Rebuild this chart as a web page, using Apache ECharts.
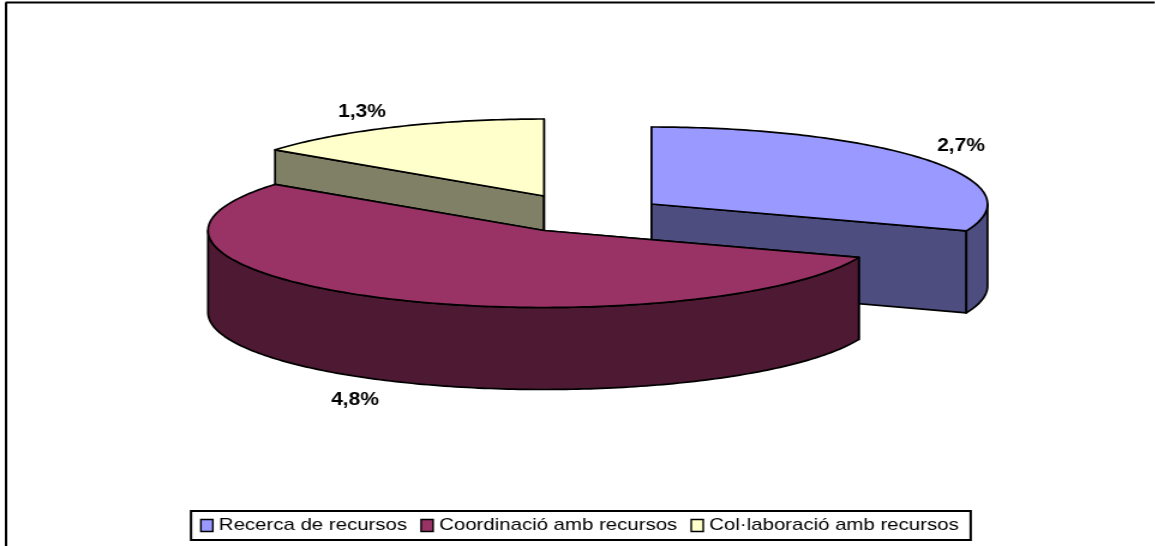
<!DOCTYPE html>
<html><head><meta charset="utf-8">
<style>
html,body{margin:0;padding:0;background:#fff;overflow:hidden}
#c{position:absolute;left:0;top:0;width:962.5px;height:546px;transform:scaleX(1.2);transform-origin:0 0}
</style>
<script src="https://cdn.jsdelivr.net/npm/echarts@6/dist/echarts.min.js"></script>
</head><body><div id="c"></div>
<script>
const categories = ['Recerca de recursos', 'Coordinació amb recursos', 'Col·laboració amb recursos'];
const values = [2.7, 4.8, 1.3];
const topColors = ['#9999FF', '#993366', '#FFFFCC'];
const sideColors = ['#4D4D80', '#4D1933', '#808066'];

// horizontal stretch of the whole picture
const K = 1.2;
const RX = 336 / K, RY = 77, DEPTH = 82;
const apex = [[651.5 / K, 204], [544 / K, 230.5], [544 / K, 196]];
const labelPos = [[961 / K, 146], [355 / K, 400], [362 / K, 112]];
const zOrder = [2, 3, 1];
const total = values.reduce((a, b) => a + b, 0);

function pt(c, deg, dy) {
  const r = deg * Math.PI / 180;
  return [c[0] + RX * Math.sin(r), c[1] - RY * Math.cos(r) + (dy || 0)];
}
function arc(c, from, to, dy) {
  const out = [], n = Math.max(2, Math.ceil(Math.abs(to - from)));
  for (let i = 0; i <= n; i++) out.push(pt(c, from + (to - from) * i / n, dy));
  return out;
}
const edge = { stroke: '#000', lineWidth: 1.7, lineJoin: 'round' };
function poly(points, fill) {
  return { type: 'polygon', shape: { points }, style: Object.assign({ fill }, edge) };
}
function makeRender(i) {
  const start = values.slice(0, i).reduce((a, b) => a + b, 0) / total * 360;
  const end = start + values[i] / total * 360;
  return function () {
    const c = apex[i], side = sideColors[i], ch = [];
    const dn = p => [p[0], p[1] + DEPTH];
    ch.push(poly([c, pt(c, start), pt(c, start, DEPTH), dn(c)], side));
    ch.push(poly([c, pt(c, end), pt(c, end, DEPTH), dn(c)], side));
    const a = Math.max(start, 90), b = Math.min(end, 270);
    if (b > a) ch.push(poly(arc(c, a, b).concat(arc(c, b, a, DEPTH)), side));
    ch.push(poly([c].concat(arc(c, start, end)), topColors[i]));
    ch.push({ type: 'text', style: {
      text: values[i].toFixed(1).replace('.', ',') + '%',
      x: labelPos[i][0], y: labelPos[i][1], align: 'center', verticalAlign: 'middle',
      font: 'bold 17.5px "Liberation Sans", Arial, sans-serif', fill: '#000' } });
    return { type: 'group', children: ch };
  };
}
const chart = echarts.init(document.getElementById('c'), null, { renderer: 'canvas' });
chart.setOption({
  animation: false,
  backgroundColor: '#fff',
  graphic: [
    { type: 'line', shape: { x1: 5.5 / K, y1: 2.5, x2: 1155 / K, y2: 2.5 }, style: { stroke: '#000', lineWidth: 2 } },
    { type: 'line', shape: { x1: 6 / K, y1: 2.5, x2: 6 / K, y2: 546 }, style: { stroke: '#000', lineWidth: 2 } }
  ],
  legend: {
    data: categories,
    left: 191 / K, top: 511, padding: [6, 10, 6, 7.5], itemGap: 11,
    orient: 'horizontal', icon: 'rect', itemWidth: 10, itemHeight: 12,
    borderColor: '#000', borderWidth: 2, selectedMode: false,
    itemStyle: { borderColor: '#000', borderWidth: 1.4 },
    textStyle: { color: '#000', fontFamily: '"Liberation Sans", Arial, sans-serif', fontSize: 17 }
  },
  series: categories.map((name, i) => ({
    type: 'custom', name, coordinateSystem: 'none', silent: true, z: zOrder[i],
    itemStyle: { color: topColors[i] },
    data: [values[i]], renderItem: makeRender(i)
  }))
});
</script></body></html>
